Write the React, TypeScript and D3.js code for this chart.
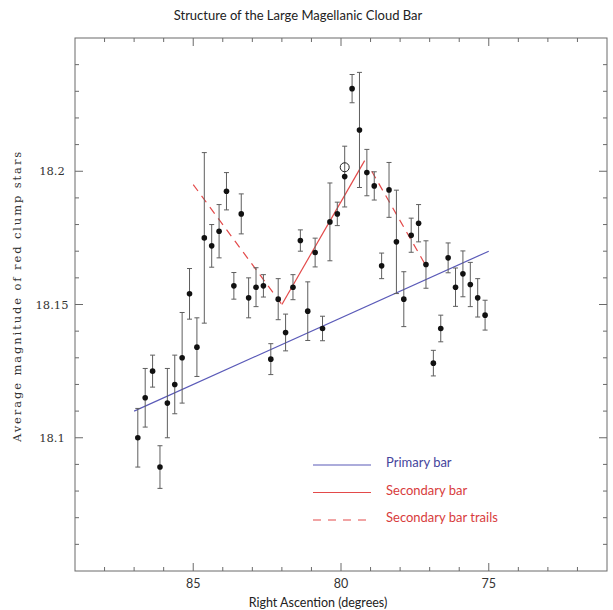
import React from 'react';
import * as d3 from 'd3';

// Right ascension of each bin (degrees) and mean red clump magnitude with its error.
const raDeg = [
  86.875, 86.625, 86.375, 86.125, 85.875, 85.625, 85.375, 85.125,
  84.875, 84.625, 84.375, 84.125, 83.875, 83.625, 83.375, 83.125,
  82.875, 82.625, 82.375, 82.125, 81.875, 81.625, 81.375, 81.125,
  80.875, 80.625, 80.375, 80.125, 79.875, 79.625, 79.375, 79.125,
  78.875, 78.625, 78.375, 78.125, 77.875, 77.625, 77.375, 77.125,
  76.875, 76.625, 76.375, 76.125, 75.875, 75.625, 75.375, 75.125
];
const meanMag = [
  18.1, 18.115, 18.125, 18.089, 18.113, 18.12, 18.13, 18.154,
  18.134, 18.175, 18.172, 18.1775, 18.1925, 18.157, 18.184, 18.1525,
  18.1565, 18.157, 18.1295, 18.152, 18.1395, 18.1565, 18.174, 18.1475,
  18.1695, 18.141, 18.181, 18.184, 18.198, 18.231, 18.2155, 18.1995,
  18.1945, 18.1645, 18.193, 18.1735, 18.152, 18.176, 18.1805, 18.165,
  18.128, 18.141, 18.1675, 18.1565, 18.1615, 18.1575, 18.1525, 18.146
];
const magErr = [
  0.011, 0.011, 0.006, 0.008, 0.013, 0.011, 0.017, 0.0095,
  0.011, 0.032, 0.008, 0.01, 0.007, 0.005, 0.0075, 0.0075,
  0.0073, 0.0042, 0.0058, 0.0077, 0.0069, 0.0047, 0.004, 0.011,
  0.0054, 0.0046, 0.0146, 0.0044, 0.0114, 0.0053, 0.0216, 0.0087,
  0.0053, 0.0048, 0.0103, 0.0194, 0.0103, 0.0064, 0.007, 0.0089,
  0.0048, 0.005, 0.0056, 0.0072, 0.0086, 0.0083, 0.0072, 0.0056
];

// the single flagged point drawn as an open circle
const flaggedRa = [79.875];
const flaggedMag = [18.2015];

type Pt = { ra: number; mag: number };
const primaryBar: Pt[] = [{ ra: 87, mag: 18.11 }, { ra: 75, mag: 18.17 }];
const secondaryBar: Pt[] = [{ ra: 82, mag: 18.15 }, { ra: 79.2, mag: 18.204 }];
const trailEast: Pt[] = [{ ra: 85, mag: 18.195 }, { ra: 82, mag: 18.15 }];
const trailWest: Pt[] = [{ ra: 78.96, mag: 18.2 }, { ra: 77.15, mag: 18.165 }];

const xMajor = [85, 80, 75];
const xMinor = d3.range(72, 89, 1);
const yMajor = [18.1, 18.15, 18.2];
const yMajorLabels = ['18.1', '18.15', '18.2'];
const yMinor = d3.range(18.06, 18.245, 0.01);

const legendItems = [
  { label: 'Primary bar', stroke: '#5a5ab8', text: '#44449c', dash: '' },
  { label: 'Secondary bar', stroke: '#e34a4a', text: '#d83c3c', dash: '' },
  { label: 'Secondary bar trails', stroke: '#e34a4a', text: '#d83c3c', dash: '8,7' }
];

const W = 613;
const H = 610;
const L = 75, T = 38, R = 607, B = 571;
const sans = 'Lato, "Open Sans", sans-serif';
const serif = '"DejaVu Serif", "Liberation Serif", serif';

const App: React.FC = () => {
  const x = d3.scaleLinear().domain([89, 71]).range([L, R]);
  const y = d3.scaleLinear().domain([18.05, 18.25]).range([B, T]);
  const line = d3.line<Pt>().x((d) => x(d.ra)).y((d) => y(d.mag));
  const axisCol = '#6a6a6a';

  return (
    <svg width={W} height={H} style={{ position: 'absolute', left: 0, top: 0, background: '#fff' }}>
      <text x={298} y={20} textAnchor="middle" fontFamily={sans} fontSize={13} fill="#222">
        Structure of the Large Magellanic Cloud Bar
      </text>

      {/* frame and inward ticks */}
      <rect x={L} y={T} width={R - L} height={B - T} fill="none" stroke={axisCol} strokeWidth={1} />
      {xMinor.map((v) => {
        const len = xMajor.includes(v) ? 8 : 4;
        return (
          <g key={'xt' + v} stroke={axisCol}>
            <line x1={x(v)} x2={x(v)} y1={B} y2={B - len} />
            <line x1={x(v)} x2={x(v)} y1={T} y2={T + len} />
          </g>
        );
      })}
      {yMinor.map((v, i) => {
        const major = yMajor.some((m) => Math.abs(m - v) < 1e-6);
        const len = major ? 8 : 4;
        return (
          <g key={'yt' + i} stroke={axisCol}>
            <line x1={L} x2={L + len} y1={y(v)} y2={y(v)} />
            <line x1={R} x2={R - len} y1={y(v)} y2={y(v)} />
          </g>
        );
      })}
      {xMajor.map((v) => (
        <text key={'xl' + v} x={x(v)} y={588} textAnchor="middle" fontFamily={sans} fontSize={12.5} fill="#333">
          {v}
        </text>
      ))}
      {yMajor.map((v, i) => (
        <text key={'yl' + v} x={52} y={y(v) + 4} textAnchor="middle" fontFamily={serif} fontSize={11.5} fill="#333">
          {yMajorLabels[i]}
        </text>
      ))}
      <text x={318} y={607} textAnchor="middle" fontFamily={sans} fontSize={12.5} fill="#222">
        Right Ascention (degrees)
      </text>
      <text
        transform={`translate(21, 296) rotate(-90)`}
        textAnchor="middle"
        fontFamily={serif}
        fontSize={11.5}
        letterSpacing={1.9}
        fill="#333"
      >
        Average magnitude of red clump stars
      </text>

      {/* fitted bar lines */}
      <path d={line(primaryBar) || ''} fill="none" stroke="#5a5ab8" strokeWidth={1.2} />
      <path d={line(secondaryBar) || ''} fill="none" stroke="#e34a4a" strokeWidth={1.2} />
      <path d={line(trailEast) || ''} fill="none" stroke="#e34a4a" strokeWidth={1.2} strokeDasharray="8,6" />
      <path d={line(trailWest) || ''} fill="none" stroke="#e34a4a" strokeWidth={1.2} strokeDasharray="8,6" />

      {/* error bars and points */}
      {raDeg.map((ra, i) => {
        const cx = x(ra);
        const y0 = y(meanMag[i] - magErr[i]);
        const y1 = y(meanMag[i] + magErr[i]);
        return (
          <g key={'p' + i}>
            <line x1={cx} x2={cx} y1={y0} y2={y1} stroke="#5e5e5e" strokeWidth={1} />
            <line x1={cx - 2.5} x2={cx + 2.5} y1={y0} y2={y0} stroke="#5e5e5e" strokeWidth={1} />
            <line x1={cx - 2.5} x2={cx + 2.5} y1={y1} y2={y1} stroke="#5e5e5e" strokeWidth={1} />
            <circle cx={cx} cy={y(meanMag[i])} r={2.8} fill="#111" />
          </g>
        );
      })}
      {flaggedRa.map((ra, i) => (
        <circle key={'f' + i} cx={x(ra)} cy={y(flaggedMag[i])} r={4.5} fill="none" stroke="#222" strokeWidth={1} />
      ))}

      {/* legend */}
      {legendItems.map((d, i) => {
        const ly = 465 + i * 27.5;
        return (
          <g key={'lg' + i}>
            <line x1={313} x2={371} y1={ly} y2={ly} stroke={d.stroke} strokeWidth={1.2} strokeDasharray={d.dash || undefined} />
            <text x={386} y={ly + 2} fontFamily={sans} fontSize={13} fill={d.text}>
              {d.label}
            </text>
          </g>
        );
      })}
    </svg>
  );
};

export default App;
